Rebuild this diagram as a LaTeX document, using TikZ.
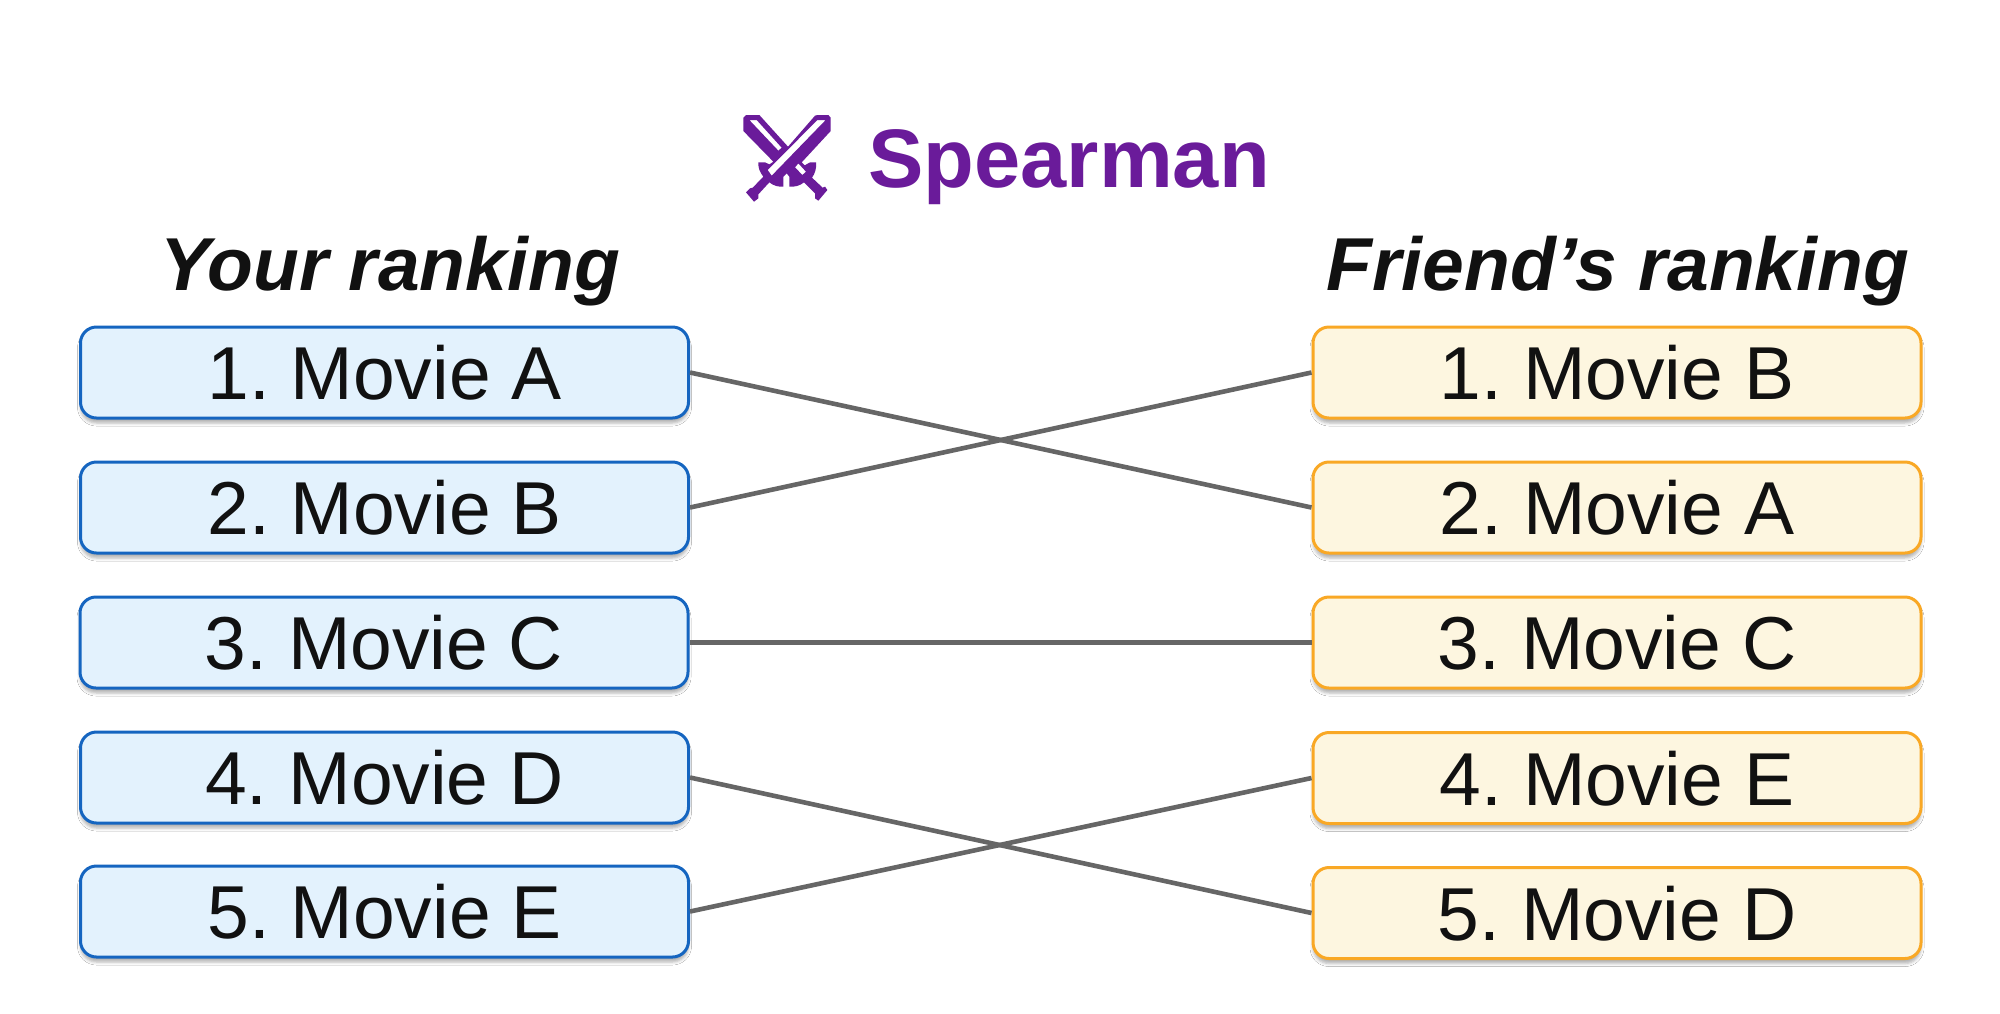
\documentclass[tikz,border=0pt]{standalone}
\usepackage{fontspec}
\setmainfont{Liberation Sans}
\frenchspacing
\usetikzlibrary{shadows.blur}
\definecolor{bluedge}{HTML}{1565C0}
\definecolor{bluefill}{HTML}{E3F2FD}
\definecolor{orgedge}{HTML}{F9A825}
\definecolor{orgfill}{HTML}{FDF6E0}
\definecolor{purp}{HTML}{6A1B9A}
\definecolor{ink}{HTML}{111111}
\definecolor{wire}{HTML}{666666}
\tikzset{
  x=0.5pt,y=-0.5pt,
  rowbox/.style={rounded corners=8pt,line width=1.5pt,minimum width=304pt,minimum height=45.5pt,
    inner sep=0pt,text=ink,font=\fontsize{37.5pt}{40pt}\selectfont,text height=27pt,text depth=0pt,
    blur shadow={shadow xshift=0pt,shadow yshift=-2.5pt,shadow blur radius=1.5pt,shadow opacity=30}},
  youbox/.style={rowbox,draw=bluedge,fill=bluefill},
  frbox/.style={rowbox,draw=orgedge,fill=orgfill},
  heading/.style={inner sep=0pt,text=ink,font=\fontsize{37.5pt}{40pt}\selectfont\bfseries\itshape,text height=27pt,text depth=7pt},
  titletext/.style={inner sep=0pt,text=purp,font=\fontsize{41.5pt}{44pt}\selectfont\bfseries,anchor=base west},
  wirelink/.style={draw=wire,line width=2.3pt}
}
\begin{document}
\begin{tikzpicture}
\useasboundingbox[fill=white] (0,0) rectangle (2000,1013);
% title
\node[titletext] (title) at (868,187) {Spearman};
\begin{scope}[shift={(730,105)},x=0.1667pt,y=-0.1667pt]
\fill[purp,even odd rule,line join=round]
 (40,38) -- (48,30) -- (88,30) -- (174,125) -- (255,32) -- (262,30) -- (295,30) -- (302,38) -- (302,78)
 -- (215,172) -- (224,181) -- (240,172) -- (258,172) .. controls (260,190) and (255,205) .. (246,218)
 -- (278,248) -- (285,245) -- (292,255) -- (265,287) -- (255,280) -- (255,265) -- (222,232)
 .. controls (210,242) and (195,246) .. (178,245) -- (178,215) -- (170,205) -- (160,215) -- (160,245)
 .. controls (145,246) and (130,242) .. (118,232) -- (85,268) -- (85,280) -- (72,290) -- (48,262) -- (60,250) -- (68,248) -- (100,215)
 .. controls (90,202) and (84,190) .. (85,172) -- (105,172) -- (118,178) -- (130,170) -- (40,78) -- cycle
 (58,45) -- (80,45) -- (155,128) -- (145,137) -- cycle
 (262,45) -- (287,45) -- (125,212) -- (113,195) -- cycle
 (205,175) -- (228,200) -- (217,210) -- (195,187) -- cycle;
\end{scope}
% headings
\node[heading] (hleft) at (390,270) {Your ranking};
\node[heading] (hright) at (1618,270) {Friend’s ranking};
% left column
\node[youbox] (y1) at (384.5,372.5) {1. Movie A};
\node[youbox] (y2) at (384.5,507.5) {2. Movie B};
\node[youbox] (y3) at (384,642.5) {3. Movie C};
\node[youbox] (y4) at (384.5,777.5) {4. Movie D};
\node[youbox] (y5) at (384.5,911.5) {5. Movie E};
% right column
\node[frbox] (f1) at (1617,372.5) {1. Movie B};
\node[frbox] (f2) at (1617,507.5) {2. Movie A};
\node[frbox] (f3) at (1617,642.5) {3. Movie C};
\node[frbox] (f4) at (1617,778) {4. Movie E};
\node[frbox] (f5) at (1617,913) {5. Movie D};
% connectors
\draw[wirelink] (y1.east) -- (f2.west);
\draw[wirelink] (y2.east) -- (f1.west);
\draw[wirelink] (y3.east) -- (f3.west);
\draw[wirelink] (y4.east) -- (f5.west);
\draw[wirelink] (y5.east) -- (f4.west);
\end{tikzpicture}
\end{document}
